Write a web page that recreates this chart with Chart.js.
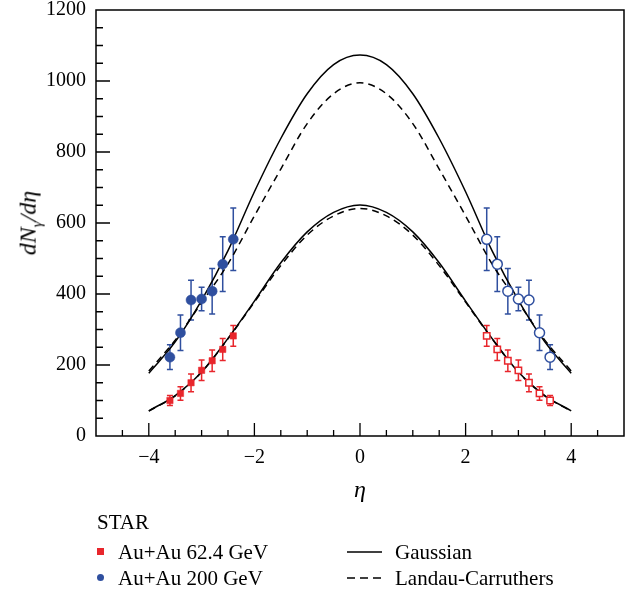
<!DOCTYPE html>
<html>
<head>
<meta charset="utf-8">
<script src="https://cdn.jsdelivr.net/npm/chart.js@4.4.1/dist/chart.umd.min.js"></script>
<style>
  html, body { margin: 0; padding: 0; background: #fff; }
  #wrap { position: relative; width: 636px; height: 596px; }
  #c { position: absolute; left: 0; top: 0; }
  .t { position: absolute; font-family: "Liberation Serif", "DejaVu Serif", serif; font-size: 21px; color: #000; white-space: nowrap; line-height: 1; }
  #ytitle { position: absolute; left: 30px; top: 223px; transform: translate(-50%, -50%) rotate(-90deg); font-family: "Liberation Serif", serif; font-style: italic; font-size: 24px; white-space: nowrap; line-height: 1; }
  #ytitle sub { font-size: 15px; }
  svg.ln { position: absolute; overflow: visible; }
</style>
</head>
<body>
<div id="wrap">
  <canvas id="c" width="636" height="596"></canvas>
  <div id="ytitle">dN<sub>γ</sub>/dη</div>
  <div class="t" style="left:97px; top:512px;">STAR</div>
  <div style="position:absolute; left:97px; top:548px; width:7px; height:7px; background:#e8262c;"></div>
  <div class="t" style="left:118px; top:542px;">Au+Au 62.4 GeV</div>
  <div style="position:absolute; left:97px; top:574px; width:7px; height:7px; border-radius:50%; background:#2f4f9f;"></div>
  <div class="t" style="left:118px; top:568px;">Au+Au 200 GeV</div>
  <svg class="ln" style="left:347px; top:547px;" width="36" height="10"><line x1="0" y1="5" x2="35" y2="5" stroke="#000" stroke-width="1.5"/></svg>
  <div class="t" style="left:395px; top:542px;">Gaussian</div>
  <svg class="ln" style="left:347px; top:573px;" width="36" height="10"><line x1="0" y1="5" x2="35" y2="5" stroke="#000" stroke-width="1.5" stroke-dasharray="8,5"/></svg>
  <div class="t" style="left:395px; top:568px;">Landau-Carruthers</div>
</div>
<script>
// ---- data ----
const etaGrid = [-4, -3.5, -3, -2.5, -2, -1.5, -1, -0.5, 0, 0.5, 1, 1.5, 2, 2.5, 3, 3.5, 4];
const gauss200 = [177, 265, 382, 522, 688, 838, 964, 1046, 1073, 1046, 964, 838, 688, 522, 382, 265, 177];
const landau200 = [183, 270, 376, 485, 620, 752, 880, 964, 995, 964, 880, 752, 620, 485, 376, 270, 183];
const gauss62 = [71, 114, 180, 275, 380, 488, 575, 630, 651, 630, 575, 488, 380, 275, 180, 114, 71];
const landau62 = [70, 113, 180, 274, 377, 480, 566, 620, 641, 620, 566, 480, 377, 274, 180, 113, 70];

const etaLeft = [-3.6, -3.4, -3.2, -3.0, -2.8, -2.6, -2.4];
const etaRight = [2.4, 2.6, 2.8, 3.0, 3.2, 3.4, 3.6];
const star200Left = [222, 291, 383, 386, 408, 484, 554];
const star200LeftErr = [35, 50, 56, 33, 64, 77, 88];
const star200Right = [554, 484, 408, 386, 383, 291, 222];
const star200RightErr = [88, 77, 64, 33, 56, 50, 35];
const star62Left = [100, 120, 150, 185, 212, 244, 282];
const star62LeftErr = [14, 19, 25, 29, 30, 31, 29];
const star62Right = [282, 244, 212, 185, 150, 120, 100];
const star62RightErr = [29, 31, 30, 29, 25, 19, 14];

const xTickValues = [-4, -2, 0, 2, 4];
const xTickLabels = ['\u22124', '\u22122', '0', '2', '4'];
const yTickValues = [0, 200, 400, 600, 800, 1000, 1200];
const yTickLabels = ['0', '200', '400', '600', '800', '1000', '1200'];

const RED = '#e8262c';
const BLUE = '#2f4f9f';
const FONT = '"Liberation Serif", "DejaVu Serif", serif';

function pts(xs, ys) { return xs.map((x, i) => ({ x: x, y: ys[i] })); }

function curve(ys, dashed) {
  return {
    type: 'line', data: pts(etaGrid, ys), borderColor: '#000', borderWidth: 1.5,
    borderDash: dashed ? [7, 5] : [], pointRadius: 0, fill: false,
    cubicInterpolationMode: 'monotone', order: 5
  };
}
function markers(xs, ys, errs, color, style, open) {
  return {
    type: 'scatter', data: pts(xs, ys), errs: errs, errColor: color,
    pointStyle: style, pointRadius: style === 'rect' ? 4.5 : 5,
    pointBackgroundColor: open ? '#fff' : color, pointBorderColor: color,
    pointBorderWidth: open ? 1.5 : 0.5, order: 1
  };
}

const errorBars = {
  id: 'errorBars',
  beforeDatasetsDraw(chart) {
    const ctx = chart.ctx;
    const xs = chart.scales.x, ys = chart.scales.y;
    chart.data.datasets.forEach(ds => {
      if (!ds.errs) return;
      ctx.save();
      ctx.strokeStyle = ds.errColor;
      ctx.lineWidth = 1.5;
      ds.data.forEach((p, i) => {
        const px = xs.getPixelForValue(p.x);
        const top = ys.getPixelForValue(p.y + ds.errs[i]);
        const bot = ys.getPixelForValue(p.y - ds.errs[i]);
        ctx.beginPath();
        ctx.moveTo(px, top); ctx.lineTo(px, bot);
        ctx.moveTo(px - 3, top); ctx.lineTo(px + 3, top);
        ctx.moveTo(px - 3, bot); ctx.lineTo(px + 3, bot);
        ctx.stroke();
      });
      ctx.restore();
    });
  }
};

const frame = {
  id: 'frame',
  afterDraw(chart) {
    const ctx = chart.ctx, a = chart.chartArea;
    const xs = chart.scales.x, ys = chart.scales.y;
    ctx.save();
    ctx.strokeStyle = '#000';
    ctx.lineWidth = 1.5;
    ctx.strokeRect(a.left, a.top, a.right - a.left, a.bottom - a.top);
    ctx.lineWidth = 1.3;
    ctx.beginPath();
    for (let v = -4.5; v <= 4.5; v += 0.5) {
      const px = xs.getPixelForValue(v);
      const len = (Math.abs(v % 2) < 1e-9) ? 13 : 6;
      ctx.moveTo(px, a.bottom); ctx.lineTo(px, a.bottom - len);
    }
    for (let v = 50; v < 1200; v += 50) {
      const py = ys.getPixelForValue(v);
      const len = (v % 200 === 0) ? 14 : 7;
      ctx.moveTo(a.left, py); ctx.lineTo(a.left + len, py);
    }
    ctx.stroke();
    ctx.restore();
  }
};

new Chart(document.getElementById('c'), {
  data: {
    datasets: [
      curve(gauss200, false), curve(landau200, true),
      curve(gauss62, false), curve(landau62, true),
      markers(etaLeft, star200Left, star200LeftErr, BLUE, 'circle', false),
      markers(etaRight, star200Right, star200RightErr, BLUE, 'circle', true),
      markers(etaLeft, star62Left, star62LeftErr, RED, 'rect', false),
      markers(etaRight, star62Right, star62RightErr, RED, 'rect', true)
    ]
  },
  options: {
    responsive: false, animation: false,
    layout: { padding: { top: 10, right: 12, bottom: 91, left: 0 } },
    plugins: { legend: { display: false }, tooltip: { enabled: false } },
    scales: {
      x: {
        type: 'linear', min: -5, max: 5,
        grid: { display: false, drawTicks: false }, border: { display: false },
        afterBuildTicks: s => { s.ticks = xTickValues.map(v => ({ value: v })); },
        ticks: {
          includeBounds: false, padding: 12, color: '#000',
          font: { family: FONT, size: 20, lineHeight: 1 },
          callback: v => { const i = xTickValues.indexOf(v); return i >= 0 ? xTickLabels[i] : ''; }
        },
        title: { display: true, text: 'η', color: '#000', font: { family: FONT, size: 24, style: 'italic', lineHeight: 1.2 }, padding: { top: 0, bottom: 0 } },
        afterFit: s => { s.height = 69; s.paddingLeft = 0; s.paddingRight = 0; }
      },
      y: {
        type: 'linear', min: 0, max: 1200,
        grid: { display: false, drawTicks: false }, border: { display: false },
        afterBuildTicks: s => { s.ticks = yTickValues.map(v => ({ value: v })); },
        ticks: {
          padding: 10, color: '#000',
          font: { family: FONT, size: 20, lineHeight: 1 },
          callback: v => { const i = yTickValues.indexOf(v); return i >= 0 ? yTickLabels[i] : ''; }
        },
        afterFit: s => { s.width = 96; s.paddingTop = 0; s.paddingBottom = 0; }
      }
    }
  },
  plugins: [errorBars, frame]
});
</script>
</body>
</html>
